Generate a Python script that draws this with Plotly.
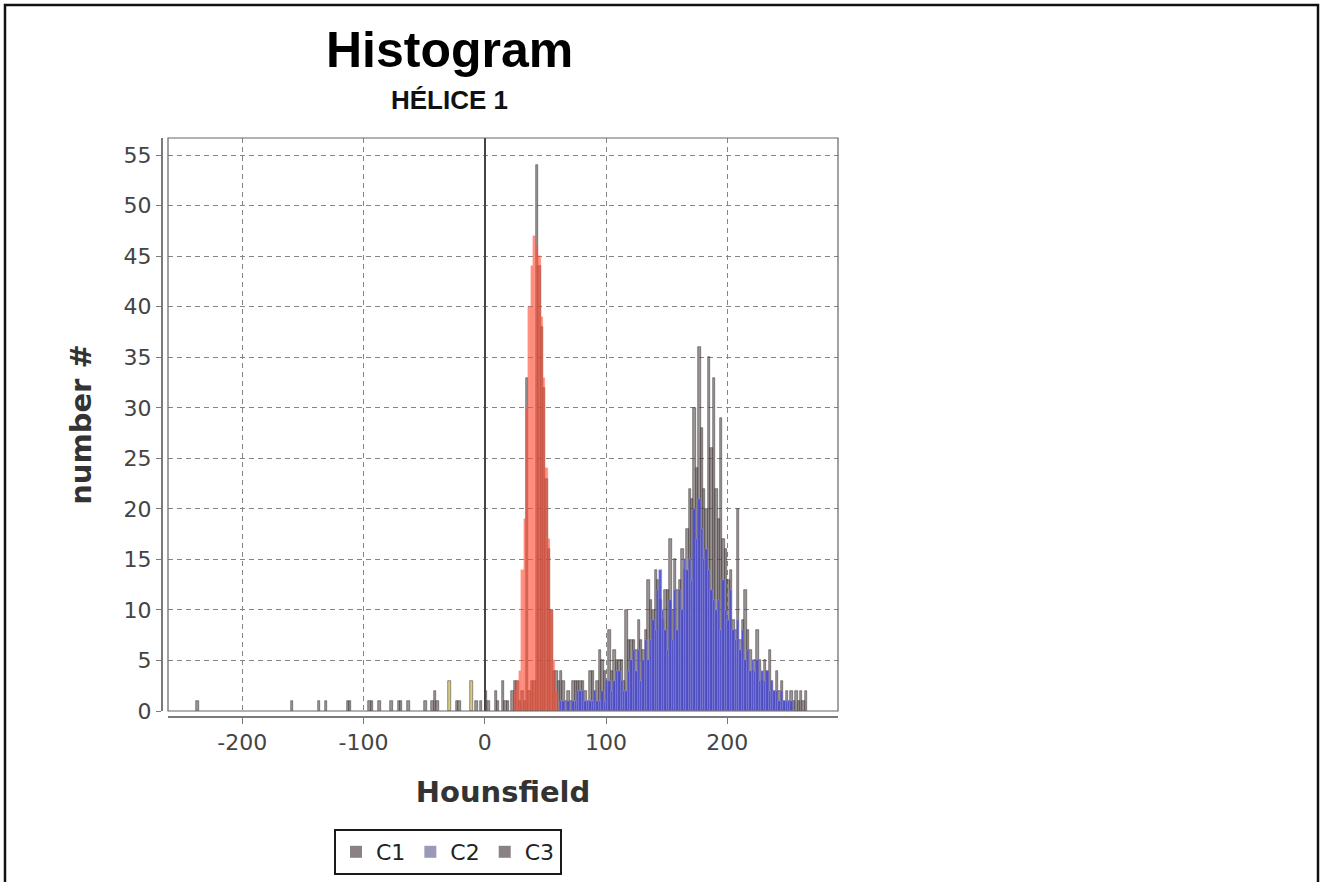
import plotly.graph_objects as go

# ---------------- data (Hounsfield bin centres, counts) ----------------
BIN = 2

c1_x = [25, 27, 29, 31, 33, 35, 37, 39, 41, 43, 45, 47, 49, 51, 53, 55, 57, 59]
c1_y = [2, 3, 4, 14, 19, 30, 40, 44, 47, 46, 45, 39, 33, 24, 17, 10, 5, 2]

c2_start = 63
c2_y = [1, 1, 0, 1, 0, 1, 1, 2, 2, 2,
        1, 1, 1, 1, 2, 1, 1, 2, 1, 3,
        3, 2, 3, 4, 4, 3, 2, 2, 4, 5,
        6, 4, 6, 3, 5, 7, 5, 7, 9, 8,
        12, 14, 10, 8, 6, 11, 7, 12, 8, 12,
        10, 15, 14, 15, 13, 20, 17, 21, 18, 15,
        16, 14, 12, 11, 10, 11, 8, 13, 10, 9,
        12, 8, 7, 9, 6, 8, 5, 6, 4, 5,
        4, 5, 3, 4, 3, 4, 2, 3, 2, 2,
        1, 2, 1, 1, 1, 1, 0]

c3_tail_x = [-237, -159, -137, -131, -113, -111, -95, -93, -87, -77, -71, -69, -63,
             -49, -43, -41, -39, -29, -23, -21, -11, -7, -3, 1, 3, 9, 11, 15, 17, 19,
             23, 25, 27, 29, 31, 33, 35, 37, 39, 41, 43, 45, 47, 49, 51, 53, 55, 57,
             59, 61, 63, 65, 67, 69, 71]
c3_tail_y = [1, 1, 1, 1, 1, 1, 1, 1, 1, 1, 1, 1, 1,
             1, 1, 2, 1, 3, 1, 1, 3, 1, 1, 2, 1, 2, 1, 3, 1, 1,
             2, 3, 3, 1, 2, 1, 33, 2, 3, 3, 54, 44, 38, 32, 23, 16, 10, 4,
             4, 3, 4, 3, 1, 2, 1]
c3_start = 73
c3_main_y = [3, 3, 3, 3, 3, 2, 1, 4, 4, 2,
             3, 6, 5, 4, 3, 8, 4, 6, 5, 5,
             5, 3, 10, 7, 7, 7, 6, 9, 7, 6,
             8, 13, 11, 10, 14, 13, 11, 9, 12, 12,
             17, 10, 15, 12, 13, 16, 14, 18, 22, 21,
             30, 24, 36, 28, 22, 20, 35, 26, 33, 22,
             19, 29, 17, 16, 13, 14, 9, 8, 20, 7,
             9, 12, 8, 6, 4, 5, 8, 5, 3, 5,
             4, 6, 3, 2, 4, 2, 3, 1, 2, 1,
             2, 1, 2, 1, 2, 1, 2]
c3_yellow_bins = [-29, -11]

x_tick_vals = [-200, -100, 0, 100, 200]
x_tick_text = ["-200", "-100", "0", "100", "200"]
y_tick_vals = [0, 5, 10, 15, 20, 25, 30, 35, 40, 45, 50, 55]

series_names = ["C1", "C2", "C3"]
legend_colors = ["#8a8282", "#9a9ab8", "#8a8282"]

# ---------------- derived ----------------
c2_x = [c2_start + BIN * i for i in range(len(c2_y))]
c3_x = c3_tail_x + [c3_start + BIN * i for i in range(len(c3_main_y))]
c3_y = c3_tail_y + c3_main_y
c3_colors = ["rgba(205,195,110,0.85)" if v in c3_yellow_bins else "rgba(92,82,82,0.62)"
             for v in c3_x]

fig = go.Figure()
fig.add_trace(go.Bar(x=c3_x, y=c3_y, width=BIN, showlegend=False,
                     marker=dict(color=c3_colors,
                                 line=dict(color="rgba(60,52,52,0.85)", width=0.6))))
fig.add_trace(go.Bar(x=c2_x, y=c2_y, width=BIN, showlegend=False,
                     marker=dict(color="rgba(65,65,205,0.85)",
                                 line=dict(color="rgba(160,160,240,0.9)", width=0.5))))
fig.add_trace(go.Bar(x=c1_x, y=c1_y, width=BIN, showlegend=False,
                     marker=dict(color="rgba(255,75,50,0.6)",
                                 line=dict(color="rgba(255,110,90,0.6)", width=0.4))))

for name, col in zip(series_names, legend_colors):
    fig.add_trace(go.Bar(x=[None], y=[None], name=name,
                         marker=dict(color=col, line=dict(width=0))))

W, H = 1322, 882
ML, MR, MT, MB = 162, 484, 138, 165
PW = W - ML - MR
PH = H - MT - MB
GAP = 6

def px_x(p):
    return (p - ML) / PW

def px_y(p):
    return (H - MB - p) / PH

grid_col = "#858585"
axis_col = "#7a7a7a"
tick_font = dict(family="DejaVu Sans", size=22, color="#444444")
title_font = dict(family="DejaVu Sans", size=29, color="#333333", weight="bold")

fig.update_layout(
    width=W, height=H, autosize=False,
    margin=dict(l=ML, r=MR, t=MT, b=MB, pad=0, autoexpand=False),
    paper_bgcolor="white", plot_bgcolor="white",
    barmode="overlay", bargap=0,
    showlegend=True,
    legend=dict(orientation="h", xref="container", yref="container",
                x=448 / W, y=1 - 852 / H,
                xanchor="center", yanchor="middle",
                bordercolor="#1a1a1a", borderwidth=2, bgcolor="white",
                font=dict(family="DejaVu Sans", size=22, color="#222222"),
                itemwidth=30, traceorder="normal"),
    xaxis=dict(domain=[GAP / PW, 1], anchor="free", position=0, automargin=False,
               range=[-261.3, 291.3], tickvals=x_tick_vals, ticktext=x_tick_text,
               tickfont=tick_font, ticks="outside", ticklen=6, tickcolor=axis_col,
               showline=True, linecolor=axis_col, linewidth=2,
               showgrid=True, gridcolor=grid_col, gridwidth=1.3, griddash="5px,4px",
               zeroline=True, zerolinecolor="#444444", zerolinewidth=1.5,
               title=dict(text="Hounsfield", font=title_font, standoff=26)),
    yaxis=dict(domain=[GAP / PH, 1], anchor="free", position=0, automargin=False,
               range=[0, 56.7], tickvals=y_tick_vals,
               tickfont=tick_font, ticks="outside", ticklen=5, tickcolor=axis_col,
               showline=True, linecolor=axis_col, linewidth=2,
               showgrid=True, gridcolor=grid_col, gridwidth=1.3, griddash="5px,4px",
               zeroline=False,
               title=dict(text="number #", font=title_font, standoff=22)),
    annotations=[
        dict(text="Histogram", xref="paper", yref="paper", x=px_x(449), y=px_y(50),
             xanchor="center", yanchor="middle", showarrow=False,
             font=dict(family="Liberation Sans", size=50, color="#000000", weight="bold")),
        dict(text="HÉLICE 1", xref="paper", yref="paper", x=px_x(449), y=px_y(100),
             xanchor="center", yanchor="middle", showarrow=False,
             font=dict(family="Liberation Sans", size=26, color="#111111", weight="bold")),
    ],
    shapes=[
        dict(type="rect", xref="x domain", yref="y domain", x0=0, x1=1, y0=0, y1=1,
             line=dict(color="#666666", width=1.2), layer="above"),
        dict(type="rect", xref="paper", yref="paper",
             x0=px_x(5), x1=px_x(1318), y0=px_y(5), y1=px_y(900),
             line=dict(color="#111111", width=2.5)),
    ],
)

fig.write_html(
    "out.html",
    config={"displayModeBar": False},
    post_script="document.body.style.margin='0px';"
                "document.body.style.overflow='hidden';",
)
